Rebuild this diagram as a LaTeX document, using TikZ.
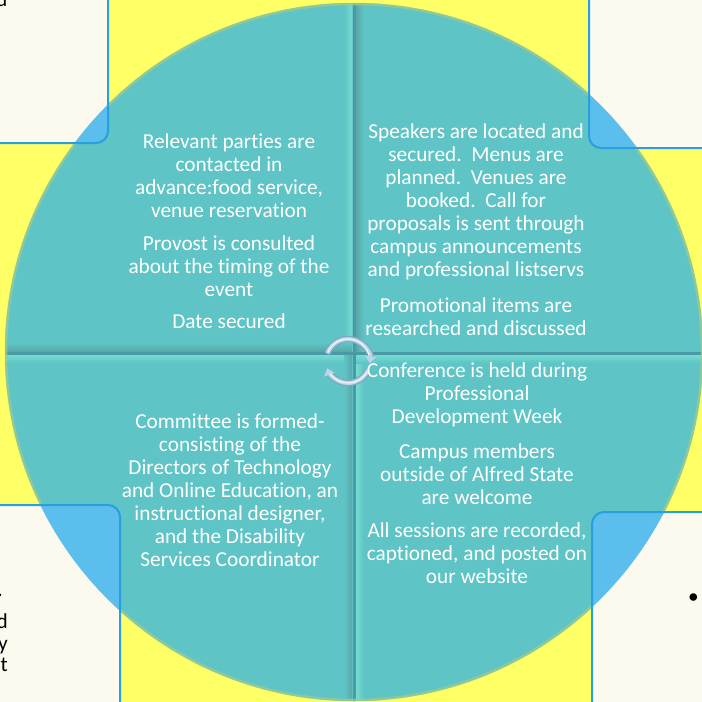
\documentclass[tikz,border=0pt]{standalone}
\usepackage{fontspec}
\setmainfont{Carlito}[Ligatures=NoCommon]
\usetikzlibrary{arrows.meta}
\definecolor{yel}{HTML}{FFFF66}
\definecolor{cream}{HTML}{FCF9EE}
\definecolor{bbord}{HTML}{2A9FE0}
\definecolor{bover}{HTML}{5CBEEC}
\definecolor{qteal}{HTML}{5FC4C6}
\definecolor{qdark}{HTML}{4A9AA6}
\definecolor{qshade}{HTML}{5AA8A8}
\definecolor{qlight}{HTML}{74DDD0}
\definecolor{ringc}{HTML}{B8D6E6}
\definecolor{ringo}{HTML}{7FA6BE}
\tikzset{
  txt/.style={text=white, font=\fontsize{21.3}{23}\selectfont, anchor=base, inner sep=0pt},
  frag/.style={text=black, font=\fontsize{21.3}{23}\selectfont, anchor=base east, inner sep=0pt},
  boxline/.style={draw=bbord, line width=2pt, rounded corners=12pt},
}
\begin{document}
\begin{tikzpicture}[x=1pt,y=-1pt]
\useasboundingbox (0,0) rectangle (702,702);
\fill[yel] (0,0) rectangle (702,702);
\coordinate (C) at (354,352);
% circle
\fill[qteal] (C) circle (349);
\begin{scope}
  \clip (C) circle (349);
  % bevel strips
  \shade[left color=qteal, right color=qlight] (344,0) rectangle (352,351);   % TL right edge light
  \shade[top color=qteal, bottom color=qshade] (0,343) rectangle (352,351);   % TL bottom edge dark
  \shade[left color=qshade, right color=qteal] (356,0) rectangle (364,351);   % TR left edge dark
  \shade[top color=qlight, bottom color=qteal] (0,355) rectangle (352,363);   % BL top edge light
  \shade[left color=qteal, right color=qshade] (344,355) rectangle (352,702); % BL right edge dark
  \shade[left color=qlight, right color=qteal] (356,355) rectangle (364,702); % BR left edge light
  \shade[top color=qlight, bottom color=qteal] (356,355) rectangle (702,363); % BR top edge light
  \fill[qdark] (352.5,0) rectangle (355.5,702);
  \fill[qdark] (0,351.5) rectangle (702,354.5);
\end{scope}
\draw[qshade!60!yel, line width=2.5pt, opacity=0.8] (C) circle (348);
% corner boxes
\foreach \xa/\ya/\xb/\yb/\nm in {-20/-20/108/143/tl, 589/-20/722/148/tr, -20/505/120/722/bl, 592/512/722/722/br}{
  \fill[cream, rounded corners=12pt] (\xa,\ya) rectangle (\xb,\yb);
  \begin{scope}
    \clip[rounded corners=12pt] (\xa,\ya) rectangle (\xb,\yb);
    \fill[bover] (C) circle (349);
  \end{scope}
  \draw[boxline] (\xa,\ya) rectangle (\xb,\yb);
}
% fragments of text in boxes
\node[frag] (f1) at (7.5,6) {u};
\node[frag] (f2) at (3,596) {.};
\node[frag] (f3) at (8,628) {d};
\node[frag] (f4) at (8,650) {y};
\node[frag] (f5) at (8,671) {t};
\node[frag, anchor=base west] (f6) at (688,603) {•};
% center icon
\coordinate (R) at (348,361);
\foreach \w/\c in {6.5pt/ringo, 4pt/ringc}{
  \draw[\c, line width=\w, -{Triangle[width=11pt,length=7pt]}] (R) ++(200:22) arc (200:366:22);
  \draw[\c, line width=\w, -{Triangle[width=11pt,length=7pt]}] (R) ++(25:22) arc (25:161:22);
}
\draw[white, line width=1pt, opacity=0.9] (R) ++(205:22) arc (205:345:22);
\draw[white, line width=1pt, opacity=0.9] (R) ++(30:22) arc (30:145:22);
% texts
\foreach \t/\y [count=\i] in {Relevant parties are/148, contacted in/171, {advance:food service,}/194, venue reservation/217, Provost is consulted/250, about the timing of the/273, event/296, Date secured/328}
  \node[txt] (q1-\i) at (229,\y) {\t};
\foreach \t/\y [count=\i] in {Speakers are located and/138, secured.\ \ Menus are/161, planned.\ \ Venues are/184, booked.\ \ Call for/207, proposals is sent through/230, campus announcements/253, and professional listservs/276, Promotional items are/312, researched and discussed/335}
  \node[txt] (q2-\i) at (476,\y) {\t};
\foreach \t/\y [count=\i] in {Committee is formed-/428, consisting of the/451, Directors of Technology/474, {and Online Education, an}/497, {instructional designer,}/520, and the Disability/543, Services Coordinator/566}
  \node[txt] (q3-\i) at (230,\y) {\t};
\foreach \t/\y [count=\i] in {Conference is held during/377, Professional/400, Development Week/423, Campus members/458, outside of Alfred State/481, are welcome/504, {All sessions are recorded,}/537, {captioned, and posted on}/560, our website/583}
  \node[txt] (q4-\i) at (477,\y) {\t};
\end{tikzpicture}
\end{document}
